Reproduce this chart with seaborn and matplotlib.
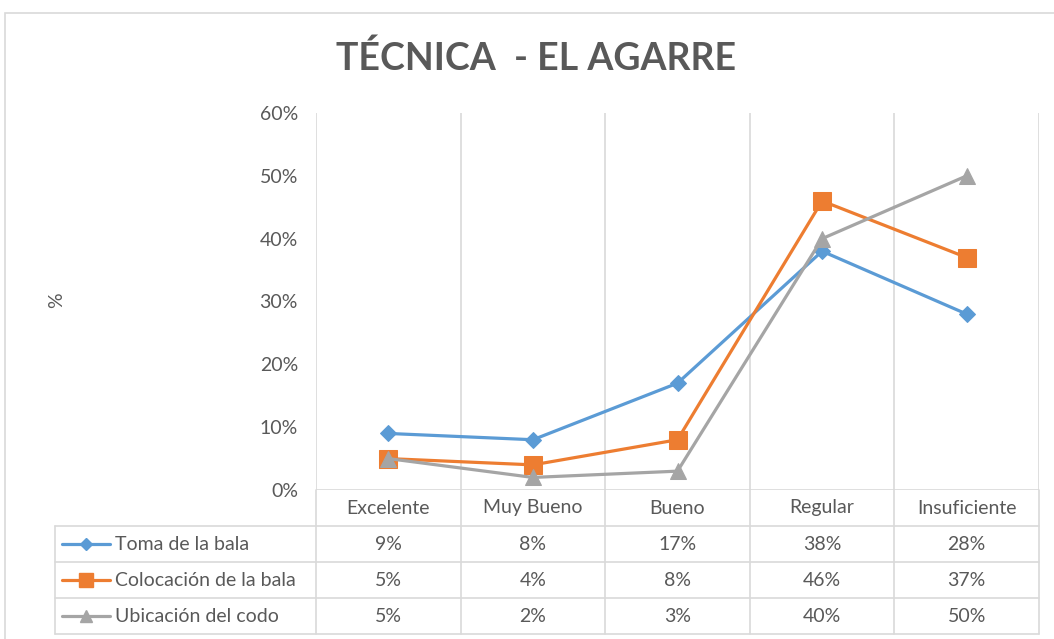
import matplotlib
matplotlib.use("Agg")
import matplotlib.pyplot as plt
import seaborn as sns
import pandas as pd
from matplotlib.lines import Line2D
from matplotlib.patches import Rectangle
from matplotlib.ticker import PercentFormatter

# ---- data ----
categories = ["Excelente", "Muy Bueno", "Bueno", "Regular", "Insuficiente"]
series_names = ["Toma de la bala", "Colocación de la bala", "Ubicación del codo"]
toma = [0.09, 0.08, 0.17, 0.38, 0.28]
colocacion = [0.05, 0.04, 0.08, 0.46, 0.37]
ubicacion = [0.05, 0.02, 0.03, 0.40, 0.50]
yticks = [0.0, 0.1, 0.2, 0.3, 0.4, 0.5, 0.6]
title = "TÉCNICA  - EL AGARRE"

series_values = [toma, colocacion, ubicacion]
colors = ["#5B9BD5", "#ED7D31", "#A5A5A5"]
markers = ["D", "s", "^"]
msizes = [8, 12.5, 12]

sns.set_theme(style="white")
plt.rcParams["font.family"] = ["Lato", "DejaVu Sans"]

W, H = 1054, 639
fig = plt.figure(figsize=(W / 100, H / 100), dpi=100)

def px_axes(x0, y0, x1, y1):
    return fig.add_axes([x0 / W, 1 - y1 / H, (x1 - x0) / W, (y1 - y0) / H])

txt = "#595959"
grid = "#D9D9D9"
fs = 14

# outer chart border
fig.patches.append(Rectangle((5 / W, -0.05), 1.1, 1 - 13 / H + 0.05,
                             transform=fig.transFigure, fill=False,
                             edgecolor="#D9D9D9", linewidth=1.2))

X0, X1, YT, YB = 316, 1039, 113, 490
ax = px_axes(X0, YT, X1, YB)

for name, vals, c, m, ms in zip(series_names, series_values, colors, markers, msizes):
    df = pd.DataFrame({"cat": categories, "val": vals})
    sns.lineplot(data=df, x="cat", y="val", ax=ax, color=c, marker=m,
                 markersize=ms, markeredgecolor=c, linewidth=2.3, legend=False,
                 zorder=3)

ax.set_xlim(-0.5, len(categories) - 0.5)
ax.set_ylim(0, 0.6)
ax.set_yticks(yticks)
ax.yaxis.set_major_formatter(PercentFormatter(1.0, decimals=0))
ax.set_xticks([])
ax.set_xlabel("")
ax.set_ylabel("")
for s in ax.spines.values():
    s.set_visible(False)
ax.tick_params(axis="y", length=0, pad=13, labelsize=fs, labelcolor=txt)
for b in range(len(categories) + 1):
    ax.axvline(b - 0.5, color=grid, lw=1.2, zorder=1)
ax.axhline(0, color=grid, lw=1.2, zorder=1)

fig.text(57 / W, 1 - 300 / H, "%", rotation=90, ha="center", va="center",
         fontsize=fs, color=txt)
fig.text(536 / W, 1 - 58 / H, title, ha="center", va="center",
         fontsize=27, fontweight="bold", color=txt)

# ---- data table ----
TL = 55
scale = (X1 - X0) / len(categories)
xleft = -0.5 - (X0 - TL) / scale
tab = px_axes(TL, YB, X1, 634)
tab.set_xlim(xleft, len(categories) - 0.5)
tab.set_ylim(len(series_names) + 1, 0)
tab.axis("off")
nrow = len(series_names)
for b in range(len(categories) + 1):
    tab.plot([b - 0.5, b - 0.5], [0, nrow + 1], color=grid, lw=1.2, clip_on=False)
tab.plot([xleft, xleft], [1, nrow + 1], color=grid, lw=1.2, clip_on=False)
for r in range(1, nrow + 2):
    tab.plot([xleft, len(categories) - 0.5], [r, r], color=grid, lw=1.2, clip_on=False)

for i, cat in enumerate(categories):
    tab.text(i, 0.5, cat, ha="center", va="center", fontsize=fs, color=txt)

key0 = xleft + 7 / scale
key1 = xleft + 55 / scale
for r, (name, vals, c, m, ms) in enumerate(zip(series_names, series_values, colors, markers, msizes)):
    yc = r + 1.5
    tab.add_line(Line2D([key0, key1], [yc, yc], color=c, lw=2.3,
                        clip_on=False))
    tab.add_line(Line2D([(key0 + key1) / 2], [yc], color=c, marker=m,
                        markersize=ms * 0.75, markeredgecolor=c, clip_on=False))
    tab.text(key1 + 5 / scale, yc, name, ha="left", va="center",
             fontsize=fs, color=txt)
    for i, v in enumerate(vals):
        tab.text(i, yc, f"{round(v * 100)}%", ha="center", va="center",
                 fontsize=fs, color=txt)

fig.savefig("out.png", dpi=100)
